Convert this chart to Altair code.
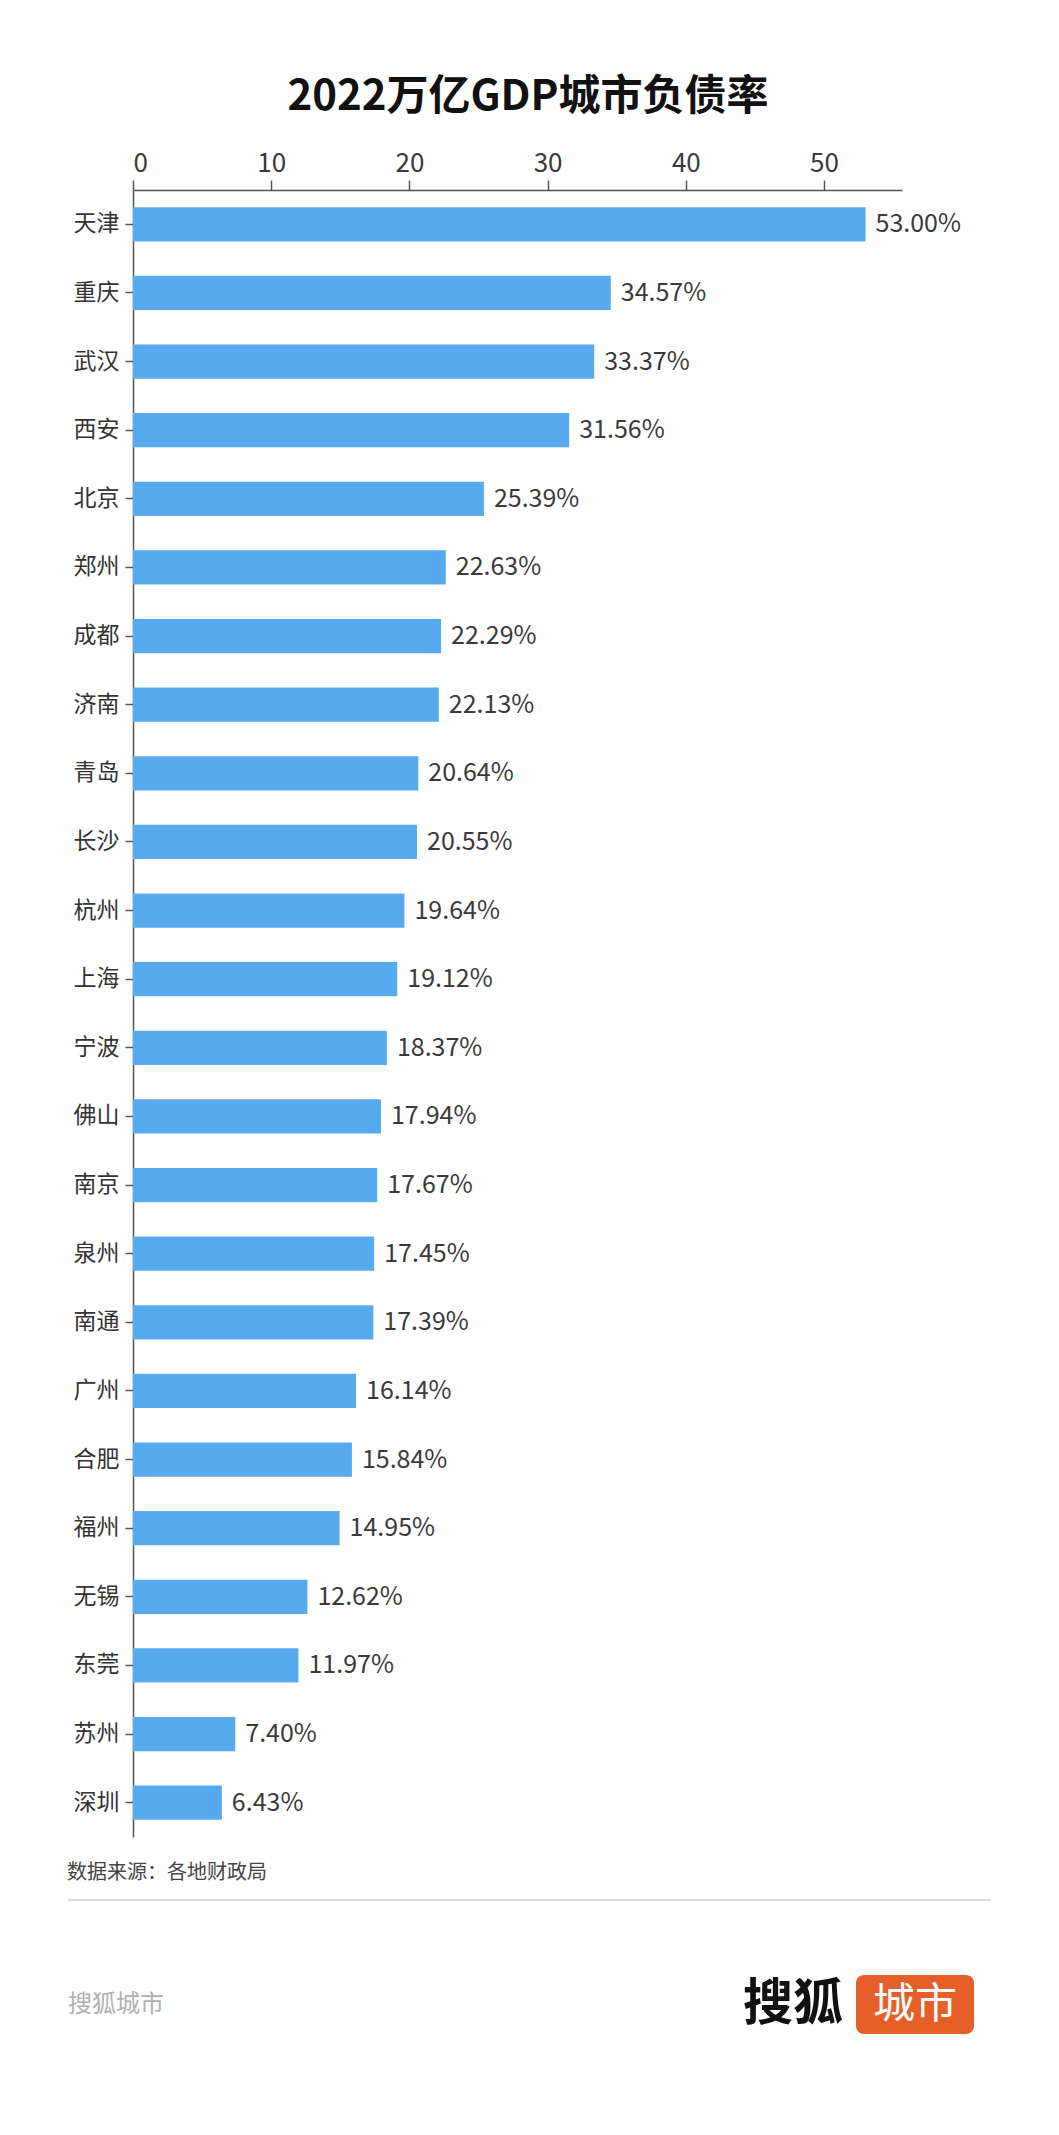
import altair as alt
import pandas as pd

cities = ["天津", "重庆", "武汉", "西安", "北京", "郑州", "成都", "济南", "青岛", "长沙",
          "杭州", "上海", "宁波", "佛山", "南京", "泉州", "南通", "广州", "合肥", "福州",
          "无锡", "东莞", "苏州", "深圳"]
values = [53.00, 34.57, 33.37, 31.56, 25.39, 22.63, 22.29, 22.13, 20.64, 20.55,
          19.64, 19.12, 18.37, 17.94, 17.67, 17.45, 17.39, 16.14, 15.84, 14.95,
          12.62, 11.97, 7.40, 6.43]
x_ticks = [0, 10, 20, 30, 40, 50]

title_text = "2022万亿GDP城市负债率"
source_text = "数据来源：各地财政局"
footer_text = "搜狐城市"
logo_left = "搜狐"
logo_right = "城市"

FONT = "Noto Sans CJK SC"
BAR = "#58aaee"

df = pd.DataFrame({"city": cities, "value": values})

xscale = alt.Scale(domain=[0, 55.64], nice=False, zero=True)
yscale = alt.Scale(paddingInner=0.5, paddingOuter=0.25)

base = alt.Chart(df)

bars = base.mark_bar(color=BAR).encode(
    y=alt.Y("city:N", sort=None, scale=yscale, title=None,
            axis=alt.Axis(tickSize=8, labelPadding=6, labelFontSize=23,
                          labelColor="#333333", labelFont=FONT,
                          domainColor="#555555", tickColor="#555555",
                          domainWidth=1.5, tickWidth=1.5)),
    x=alt.X("value:Q", scale=xscale, title=None,
            axis=alt.Axis(orient="top", values=x_ticks, grid=False, tickSize=10,
                          labelPadding=4, labelFontSize=26, labelColor="#3a3a3a",
                          labelFont=FONT, domainColor="#555555", tickColor="#555555",
                          domainWidth=1.5, tickWidth=1.5)),
)

labels = base.transform_calculate(
    lab="format(datum.value, '.2f') + '%'"
).mark_text(align="left", baseline="middle", dx=10, fontSize=25, font=FONT,
            color="#3a3a3a").encode(
    y=alt.Y("city:N", sort=None, scale=yscale),
    x=alt.X("value:Q", scale=xscale),
    text="lab:N",
)


def note(txt, x, y, size, color, weight="normal", align="left"):
    return alt.Chart(pd.DataFrame({"t": [txt]})).mark_text(
        align=align, baseline="middle", fontSize=size, font=FONT,
        fontWeight=weight, color=color
    ).encode(x=alt.value(x), y=alt.value(y), text="t:N")


title = note(title_text, 395, -93, 42, "#111111", weight="bold", align="center")
source = note(source_text, -66, 1683, 20, "#444444")
sep = alt.Chart(pd.DataFrame({"a": [0]})).mark_rule(color="#dddddd", strokeWidth=2).encode(
    x=alt.value(-65), x2=alt.value(858), y=alt.value(1710)
)
footer = note(footer_text, -65, 1815, 24, "#b0b0b0")
logo1 = note(logo_left, 660, 1815, 50, "#111111", weight="bold", align="center")
logo_box = alt.Chart(pd.DataFrame({"a": [0]})).mark_rect(color="#e65f28", cornerRadius=8).encode(
    x=alt.value(723), x2=alt.value(841), y=alt.value(1785), y2=alt.value(1844)
)
logo2 = note(logo_right, 782, 1815, 42, "#ffffff", align="center")

chart = alt.layer(bars, labels, title, source, sep, footer, logo1, logo_box, logo2).properties(
    width=769, height=1647,
    autosize=alt.AutoSizeParams(type="none"),
    padding={"left": 125, "top": 182, "right": 149, "bottom": 280},
    background="white",
).configure_view(stroke=None)

chart.save("out.html", embed_options={"renderer": "svg", "actions": False})
